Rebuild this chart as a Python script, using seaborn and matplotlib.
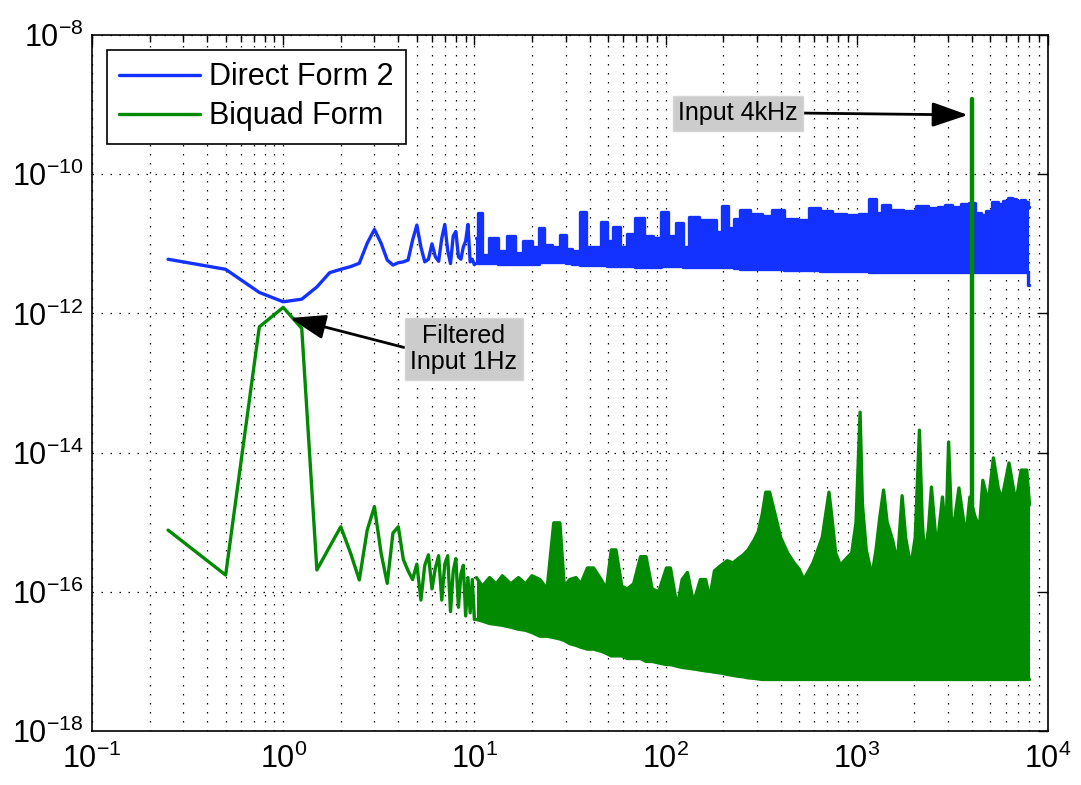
import numpy as np
import pandas as pd
import matplotlib
matplotlib.use("Agg")
import matplotlib.pyplot as plt
from matplotlib import ticker
import seaborn as sns

# --- values ---
# sparse low-frequency bins (0.25 Hz spacing)
low_freq = [0.25, 0.5, 0.75, 1.0, 1.25, 1.5, 1.75, 2.0, 2.25, 2.5,
            2.75, 3.0, 3.25, 3.5, 3.75, 4.0, 4.25, 4.5, 4.75, 5.0,
            5.25, 5.5, 5.75, 6.0, 6.25, 6.5, 6.75, 7.0, 7.25, 7.5,
            7.75, 8.0, 8.25, 8.5, 8.75, 9.0, 9.25, 9.5, 9.75, 10.0]
df2_low = [6.0e-12, 4.3e-12, 2.0e-12, 1.47e-12, 1.6e-12, 2.4e-12, 3.85e-12, 4.3e-12, 4.7e-12, 5.25e-12,
           10.2e-12, 16.1e-12, 10.2e-12, 5.85e-12, 4.95e-12, 5.35e-12, 5.5e-12, 5.85e-12, 11.3e-12, 18.6e-12,
           9.0e-12, 5.5e-12, 6.0e-12, 10.0e-12, 6.5e-12, 5.6e-12, 12.0e-12, 19.0e-12, 8.0e-12, 5.2e-12,
           13.0e-12, 15.0e-12, 6.5e-12, 6.0e-12, 9.0e-12, 11.0e-12, 19.0e-12, 5.5e-12, 6.0e-12, 5.0e-12]
biquad_low = [7.7e-16, 1.74e-16, 6.4e-13, 1.22e-12, 6.1e-13, 2.06e-16, 4.45e-16, 8.6e-16, 3.6e-16, 1.48e-16,
              7.7e-16, 1.67e-15, 3.6e-16, 1.32e-16, 7.0e-16, 8.6e-16, 2.9e-16, 2.0e-16, 1.5e-16, 2.5e-16,
              7.6e-17, 2.4e-16, 3.4e-16, 1.1e-16, 2.2e-16, 3.3e-16, 7.6e-17, 2.5e-16, 3.3e-16, 5.2e-17,
              2.0e-16, 3.0e-16, 6.0e-17, 1.8e-16, 2.4e-16, 4.5e-17, 1.6e-16, 5.0e-17, 1.5e-16, 4.0e-17]

# dense part: upper / lower envelope of the noise band
df2_band_freq = [10.25, 10.75, 11.25, 12.5, 14, 15.5, 17, 19, 21, 22.5,
                 24, 27, 29, 31, 34, 37, 40, 44, 48, 51,
                 55, 60, 66, 73, 82, 90, 99, 108, 120, 126,
                 140, 160, 176, 190, 205, 220, 235, 255, 300, 340,
                 380, 450, 520, 600, 680, 800, 950, 1100, 1222, 1300,
                 1400, 1600, 1900, 2200, 2500, 2800, 3000, 3300, 3700, 4000,
                 4300, 4600, 4900, 5300, 5600, 6000, 6300, 6600, 7000, 7400,
                 7800, 8000]
df2_band_hi = [12, 28, 7, 12, 8, 13, 7.5, 11, 9, 16.7,
               9.5, 9, 13.4, 8.5, 8, 28.9, 9, 9, 20.8, 11,
               17.6, 9, 14, 23.2, 13, 12, 28.9, 13, 19.7, 9,
               24.5, 22, 22, 15, 34.9, 17, 23, 30.6, 27, 25,
               31, 23, 22, 32.4, 30, 27, 26, 27, 43.6, 28,
               36, 31, 30, 35, 33, 34, 36, 34, 37, 38,
               28, 26, 30, 40, 37, 41, 46, 44, 41, 42,
               40, 34]
df2_band_lo = [5.3, 5.3, 5.3, 5.3, 5.2, 5.2, 5.2, 5.1, 5.1, 5.4,
               5.5, 5.4, 5.4, 5.3, 5.2, 5.0, 5.0, 4.9, 4.9, 4.8,
               4.8, 4.8, 4.8, 4.7, 4.7, 4.7, 4.8, 4.8, 4.8, 4.7,
               4.7, 4.7, 4.6, 4.6, 4.6, 4.6, 4.5, 4.4, 4.4, 4.3,
               4.3, 4.2, 4.2, 4.2, 4.1, 4.1, 4.1, 4.1, 4.0, 4.0,
               4.0, 4.0, 4.0, 4.0, 4.0, 4.0, 4.0, 3.9, 3.9, 3.9,
               3.9, 3.9, 3.9, 3.9, 3.9, 3.9, 3.9, 3.9, 3.9, 3.9,
               3.9, 2.6]  # x 1e-12

bq_band_freq = [10.25, 11, 12, 13, 14, 15.5, 17, 18.5, 20, 22,
                24, 26, 28, 29.5, 31.5, 34, 36, 39, 42, 46,
                49, 52, 55, 59, 63, 68, 74, 79, 85, 92,
                101, 106, 115, 122, 130, 140, 152, 162, 170, 180,
                195, 210, 225, 240, 255, 270, 290, 305, 320, 334,
                350, 371, 400, 435, 470, 500, 528, 560, 590, 625,
                660, 690, 715, 740, 775, 820, 880, 940, 990, 1040,
                1070, 1120, 1200, 1260, 1320, 1380, 1440, 1540, 1630, 1725,
                1800, 1915, 2020, 2125, 2200, 2262, 2370, 2456, 2620, 2805,
                2920, 3020, 3120, 3210, 3420, 3720, 3900, 4150, 4385, 4560,
                4870, 5180, 5500, 5750, 6250, 6790, 7230, 7740, 8000]
bq_band_hi = [1.6e-16, 1.2e-16, 1.6e-16, 1.3e-16, 1.7e-16, 1.3e-16, 1.6e-16, 1.3e-16, 1.7e-16, 1.5e-16,
              1.1e-16, 9.8e-16, 9.8e-16, 1.2e-16, 1.5e-16, 1.6e-16, 1.3e-16, 2.2e-16, 2.2e-16, 1.5e-16,
              1.1e-16, 4.0e-16, 4.0e-16, 1.2e-16, 1.1e-16, 1.3e-16, 3.2e-16, 3.2e-16, 1.1e-16, 1.0e-16,
              2.2e-16, 2.2e-16, 6.0e-17, 1.5e-16, 1.9e-16, 7.0e-17, 1.5e-16, 1.5e-16, 8.0e-17, 2.0e-16,
              2.4e-16, 2.8e-16, 2.6e-16, 3.0e-16, 3.4e-16, 4.0e-16, 5.5e-16, 7.3e-16, 1.3e-15, 2.7e-15,
              2.7e-15, 1.4e-15, 6.0e-16, 3.6e-16, 2.6e-16, 2.1e-16, 1.5e-16, 2.0e-16, 2.6e-16, 4.0e-16,
              6.1e-16, 1.4e-15, 2.7e-15, 1.2e-15, 3.6e-16, 2.4e-16, 3.0e-16, 3.6e-16, 9.8e-16, 3.8e-14,
              1.8e-15, 4.0e-16, 1.7e-16, 4.0e-16, 1.2e-15, 2.9e-15, 1.0e-15, 5.5e-16, 2.6e-16, 2.4e-15,
              6.0e-16, 2.3e-16, 6.0e-16, 2.1e-14, 1.0e-15, 3.2e-16, 8.0e-16, 3.2e-15, 4.0e-16, 2.3e-15,
              6.0e-16, 1.42e-14, 1.2e-15, 8.5e-16, 3.1e-15, 6.1e-16, 2.3e-15, 1.2e-15, 8.5e-16, 4.0e-15,
              1.9e-15, 8.4e-15, 3.0e-15, 2.2e-15, 7.1e-15, 1.9e-15, 5.6e-15, 5.6e-15, 1.77e-15]
bq_band_lo = [4.0e-17, 3.8e-17, 3.5e-17, 3.4e-17, 3.3e-17, 3.1e-17, 2.9e-17, 2.8e-17, 2.6e-17, 2.3e-17,
              2.3e-17, 2.2e-17, 2.1e-17, 2.0e-17, 1.8e-17, 1.7e-17, 1.6e-17, 1.5e-17, 1.5e-17, 1.4e-17,
              1.3e-17, 1.2e-17, 1.2e-17, 1.2e-17, 1.1e-17, 1.1e-17, 1.1e-17, 1.0e-17, 1.0e-17, 9.5e-18,
              9.0e-18, 9.0e-18, 8.5e-18, 8.2e-18, 8.0e-18, 7.8e-18, 7.5e-18, 7.3e-18, 7.2e-18, 7.0e-18,
              6.8e-18, 6.5e-18, 6.3e-18, 6.1e-18, 6.0e-18, 5.8e-18, 5.7e-18, 5.6e-18] + [5.5e-18] * 61

# the 4 kHz input tone of the biquad output
tone_freq = [4000, 4000]
tone_level = [5.5e-18, 1.19e-9]

blue = "#1432ff"
green = "#038a03"
lw = 2.4

sns.set_theme(style="white", rc={"axes.edgecolor": "black", "xtick.color": "black",
                                 "ytick.color": "black", "text.color": "black"})
plt.rcParams["font.family"] = ["Liberation Sans", "DejaVu Sans"]
plt.rcParams["mathtext.fontset"] = "custom"
plt.rcParams["mathtext.rm"] = "Liberation Sans"
plt.rcParams["mathtext.it"] = "Liberation Sans:italic"
plt.rcParams["mathtext.bf"] = "Liberation Sans:bold"

fig = plt.figure(figsize=(10.81, 7.85), dpi=100)
ax = fig.add_axes([0.0851, 0.0688, 0.8844, 0.8866])

low = pd.DataFrame({"f": low_freq, "df2": df2_low, "bq": biquad_low})
df2_band = pd.DataFrame({"f": df2_band_freq,
                         "hi": np.array(df2_band_hi) * 1e-12,
                         "lo": np.array(df2_band_lo) * 1e-12})
bq_band = pd.DataFrame({"f": bq_band_freq, "hi": bq_band_hi, "lo": bq_band_lo})

# Direct Form 2 (blue): ragged flat-topped noise -> steps
sns.lineplot(data=low, x="f", y="df2", ax=ax, color=blue, lw=lw, estimator=None)
ax.fill_between(df2_band["f"], df2_band["lo"], df2_band["hi"], step="mid", color=blue, lw=0)
for col in ["hi", "lo"]:
    sns.lineplot(data=df2_band, x="f", y=col, ax=ax, color=blue, lw=lw,
                 estimator=None, drawstyle="steps-mid")

# Biquad Form (green): resonance peaks -> straight segments
sns.lineplot(data=low, x="f", y="bq", ax=ax, color=green, lw=lw, estimator=None)
ax.fill_between(bq_band["f"], bq_band["lo"], bq_band["hi"], color=green, lw=0)
for col in ["hi", "lo"]:
    sns.lineplot(data=bq_band, x="f", y=col, ax=ax, color=green, lw=lw, estimator=None)
sns.lineplot(x=tone_freq, y=tone_level, ax=ax, color=green, lw=3.2, estimator=None, sort=False)

ax.set_xscale("log")
ax.set_yscale("log")
ax.set_xlim(0.1, 1e4)
ax.set_ylim(1e-18, 1e-8)
ax.set_xlabel("")
ax.set_ylabel("")

ax.xaxis.set_major_locator(ticker.LogLocator(base=10, numticks=12))
ax.xaxis.set_minor_locator(ticker.LogLocator(base=10, subs=np.arange(2, 10), numticks=60))
ax.xaxis.set_minor_formatter(ticker.NullFormatter())
ax.set_yticks([1e-18, 1e-16, 1e-14, 1e-12, 1e-10, 1e-8])
ax.yaxis.set_major_formatter(ticker.LogFormatterSciNotation())
ax.yaxis.set_minor_locator(ticker.NullLocator())

ax.tick_params(which="both", direction="in", top=True, right=True, width=1)
ax.tick_params(which="major", length=7, labelsize=22)
ax.tick_params(which="minor", length=5)
ax.tick_params(axis="x", which="major", pad=9)
ax.tick_params(axis="y", which="major", pad=6)

dots = (0, (1.2, 6))
ax.grid(True, which="major", axis="both", color="black", linestyle=dots, linewidth=0.9)
ax.grid(True, which="minor", axis="x", color="black", linestyle=dots, linewidth=0.9)
for sp in ax.spines.values():
    sp.set_color("black")
    sp.set_linewidth(1.2)

handles = [plt.Line2D([], [], color=blue, lw=lw), plt.Line2D([], [], color=green, lw=lw)]
leg = ax.legend(handles, ["Direct Form 2", "Biquad Form"], loc="upper left",
                bbox_to_anchor=(0.0154, 0.9784), borderaxespad=0, fontsize=22,
                fancybox=False, framealpha=1, edgecolor="black", handlelength=2.65,
                handletextpad=0.3, labelspacing=0.3, borderpad=0.4)
leg.get_frame().set_linewidth(1.2)

box = dict(boxstyle="square,pad=0.22", fc="#cccccc", ec="#d6d6d6", lw=1)
ax.annotate("Input 4kHz", xy=(3810, 7.1e-10), xytext=(239, 7.57e-10),
            fontsize=18, ha="center", va="center", bbox=box,
            arrowprops=dict(arrowstyle="-|>,head_length=1.1,head_width=0.38", mutation_scale=20,
                            color="black", lw=2, shrinkA=0, shrinkB=0, relpos=(1, 0.5)))
ax.annotate("Filtered\nInput 1Hz", xy=(1.085, 8.6e-13), xytext=(8.77, 3.08e-13),
            fontsize=18, ha="center", va="center", multialignment="center", linespacing=1.15,
            bbox=box,
            arrowprops=dict(arrowstyle="-|>,head_length=1.1,head_width=0.38", mutation_scale=20,
                            color="black", lw=2, shrinkA=0, shrinkB=0, relpos=(0, 0.5)))

fig.savefig("out.png", dpi=100)
